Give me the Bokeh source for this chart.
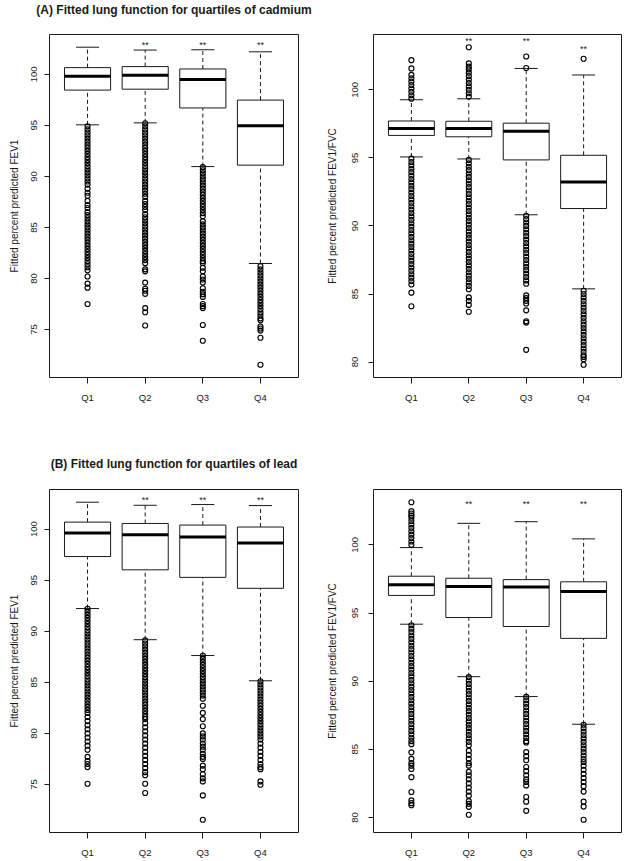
from bokeh.plotting import figure
from bokeh.models import Range1d, FixedTicker, Title
from bokeh.layouts import column, row
from bokeh.embed import file_html
from bokeh.resources import INLINE
from bokeh.core.properties import value

categories = ["Q1", "Q2", "Q3", "Q4"]
cat_pos = [1, 2, 3, 4]
star_pos = [2, 3, 4]

# ---------- (A) cadmium, FEV1 ----------
a1_whisk_lo = [95.05, 95.24, 90.96, 81.47]
a1_q1 = [98.45, 98.54, 96.70, 91.10]
a1_med = [99.80, 99.90, 99.48, 94.95]
a1_q3 = [100.65, 100.75, 100.52, 97.47]
a1_whisk_hi = [102.65, 102.37, 102.40, 102.20]
a1_out_q1 = [94.9, 94.6, 94.3, 94.0, 93.7, 93.4, 93.1, 92.8, 92.5, 92.2, 91.9, 91.6, 91.3, 91.0,
             90.7, 90.4, 90.1, 89.8, 89.5, 89.2, 88.8, 88.4, 88.1, 87.6, 87.2, 86.9, 86.5, 86.2,
             85.9, 85.6, 85.3, 85.0, 84.7, 84.4, 84.1, 83.8, 83.5, 83.2, 82.9, 82.6, 82.3, 82.0,
             81.7, 81.4, 81.1, 80.8, 80.2, 79.5, 79.1, 77.5]
a1_out_q2 = [95.2, 94.9, 94.6, 94.3, 94.0, 93.7, 93.4, 93.1, 92.8, 92.5, 92.2, 91.9, 91.6, 91.3,
             91.0, 90.7, 90.4, 90.1, 89.8, 89.5, 89.2, 88.9, 88.6, 88.3, 88.0, 87.6, 87.3, 87.0,
             86.7, 86.3, 86.0, 85.7, 85.4, 85.1, 84.8, 84.5, 84.2, 83.9, 83.6, 83.3, 83.0, 82.7,
             82.4, 82.1, 81.8, 81.5, 80.9, 80.7, 79.6, 79.0, 78.8, 78.5, 77.1, 76.7, 75.4]
a1_out_q3 = [90.9, 90.6, 90.3, 90.0, 89.7, 89.4, 89.1, 88.8, 88.5, 88.2, 87.9, 87.6, 87.3, 87.0,
             86.7, 86.4, 86.1, 85.6, 85.3, 85.0, 84.7, 84.4, 84.1, 83.8, 83.5, 83.2, 82.9, 82.6,
             82.3, 82.0, 81.7, 81.5, 81.05, 80.7, 80.2, 79.9, 79.6, 79.05, 78.7, 78.45, 78.2,
             77.5, 77.3, 77.1, 75.45, 73.9]
a1_out_q4 = [81.2, 80.9, 80.6, 80.3, 80.0, 79.7, 79.4, 79.1, 78.8, 78.5, 78.2, 77.9, 77.6, 77.3,
             77.0, 76.7, 76.4, 76.1, 75.9, 75.3, 75.1, 74.9, 74.2, 71.55]
a1_stars = [102.9, 102.9, 102.9]

# ---------- (A) cadmium, FEV1/FVC ----------
a2_whisk_lo = [95.07, 94.92, 90.82, 85.38]
a2_q1 = [96.65, 96.55, 94.85, 91.28]
a2_med = [97.16, 97.16, 96.96, 93.23]
a2_q3 = [97.71, 97.69, 97.55, 95.19]
a2_whisk_hi = [99.27, 99.34, 101.57, 101.09]
a2_out_q1 = [102.18, 101.57, 101.1, 100.85, 100.6, 100.35, 100.1, 99.85, 99.6, 99.35,
             94.95, 94.7, 94.45, 94.2, 93.95, 93.7, 93.45, 93.2, 92.95, 92.7, 92.45, 92.2, 91.95,
             91.7, 91.45, 91.2, 90.95, 90.7, 90.45, 90.2, 89.95, 89.7, 89.45, 89.2, 88.95, 88.7,
             88.45, 88.2, 87.95, 87.7, 87.45, 87.2, 86.95, 86.7, 86.45, 86.2, 85.95, 85.7, 85.1, 84.1]
a2_out_q2 = [103.13, 101.94, 101.7, 101.5, 101.25, 101.0, 100.75, 100.5, 100.25, 100.0, 99.75, 99.5,
             94.85, 94.6, 94.35, 94.1, 93.85, 93.6, 93.35, 93.1, 92.85, 92.6, 92.35, 92.1, 91.85,
             91.6, 91.35, 91.1, 90.85, 90.6, 90.35, 90.1, 89.85, 89.6, 89.35, 89.1, 88.85, 88.6,
             88.35, 88.1, 87.85, 87.6, 87.35, 87.1, 86.85, 86.6, 86.35, 86.1, 85.85, 85.6, 85.35,
             84.75, 84.5, 84.2, 83.7]
a2_out_q3 = [102.45, 101.6,
             90.75, 90.5, 90.25, 90.0, 89.75, 89.5, 89.25, 89.0, 88.75, 88.5, 88.25, 88.0, 87.75,
             87.5, 87.25, 87.0, 86.75, 86.5, 86.25, 86.0, 85.75, 84.9, 84.7, 84.5, 84.3, 83.8,
             83.0, 82.9, 80.9]
a2_out_q4 = [102.28,
             85.24, 85.0, 84.75, 84.5, 84.25, 84.0, 83.75, 83.5, 83.25, 83.0, 82.75, 82.5, 82.25,
             82.0, 81.75, 81.5, 81.25, 81.0, 80.75, 80.5, 80.38, 80.2, 79.8]
a2_stars = [103.6, 103.6, 103.03]

# ---------- (B) lead, FEV1 ----------
b1_whisk_lo = [92.22, 89.17, 87.62, 85.15]
b1_q1 = [97.31, 96.01, 95.27, 94.20]
b1_med = [99.61, 99.45, 99.22, 98.64]
b1_q3 = [100.68, 100.55, 100.39, 100.20]
b1_whisk_hi = [102.63, 102.33, 102.40, 102.30]
b1_out_q1 = [92.2, 91.9, 91.6, 91.3, 91.0, 90.7, 90.4, 90.1, 89.8, 89.5, 89.2, 88.9, 88.6, 88.3,
             88.0, 87.7, 87.4, 87.1, 86.8, 86.5, 86.2, 85.9, 85.6, 85.3, 85.0, 84.7, 84.4, 84.1,
             83.8, 83.5, 83.2, 82.9, 82.6, 82.3, 82.0, 81.6, 81.2, 80.8, 80.4, 80.0, 79.6, 79.2,
             78.8, 78.4, 77.7, 77.3, 77.0, 76.7, 75.07]
b1_out_q2 = [89.1, 88.8, 88.5, 88.2, 87.9, 87.6, 87.3, 87.0, 86.7, 86.4, 86.1, 85.8, 85.5, 85.2,
             84.9, 84.6, 84.3, 84.0, 83.7, 83.4, 83.1, 82.8, 82.5, 82.2, 81.9, 81.6, 81.4, 81.0,
             80.6, 80.2, 79.8, 79.4, 79.0, 78.6, 78.2, 77.8, 77.4, 77.0, 76.6, 76.2, 75.9, 75.07,
             74.16]
b1_out_q3 = [87.6, 87.3, 87.0, 86.7, 86.4, 86.1, 85.8, 85.5, 85.2, 84.9, 84.6, 84.3, 84.0, 83.7,
             83.4, 82.7, 82.0, 81.4, 80.7, 80.0, 79.7, 79.4, 79.0, 78.7, 78.4, 78.0, 77.7, 77.5,
             76.85, 76.5, 76.0, 75.6, 75.3, 73.93, 71.54]
b1_out_q4 = [85.1, 84.8, 84.5, 84.2, 83.9, 83.6, 83.3, 83.0, 82.7, 82.4, 82.1, 81.8, 81.5, 81.2,
             80.9, 80.6, 80.3, 80.0, 79.7, 79.4, 79.0, 78.6, 78.2, 77.8, 77.4, 77.0, 76.7, 76.5,
             75.3, 74.97]
b1_stars = [102.89, 102.89, 102.89]

# ---------- (B) lead, FEV1/FVC ----------
b2_whisk_lo = [94.18, 90.33, 88.87, 86.84]
b2_q1 = [96.29, 94.67, 94.01, 93.14]
b2_med = [97.07, 96.95, 96.90, 96.58]
b2_q3 = [97.70, 97.55, 97.45, 97.29]
b2_whisk_hi = [99.80, 101.58, 101.70, 100.44]
b2_out_q1 = [103.13, 102.47, 102.3, 102.15, 101.99, 101.75, 101.5, 101.25, 101.0, 100.75, 100.5,
             100.25, 100.0,
             94.1, 93.85, 93.6, 93.35, 93.1, 92.85, 92.6, 92.35, 92.1, 91.85, 91.6, 91.35, 91.1,
             90.85, 90.6, 90.35, 90.1, 89.85, 89.6, 89.35, 89.1, 88.85, 88.6, 88.35, 88.1, 87.85,
             87.6, 87.35, 87.1, 86.85, 86.6, 86.35, 86.1, 85.85, 85.6, 85.38, 84.78, 84.3, 84.0,
             83.8, 83.56, 82.96, 81.87, 81.26, 81.05, 80.9]
b2_out_q2 = [90.3, 90.05, 89.8, 89.55, 89.3, 89.05, 88.8, 88.55, 88.3, 88.05, 87.8, 87.55, 87.3,
             87.05, 86.8, 86.55, 86.3, 86.05, 85.8, 85.55, 85.3, 84.9, 84.6, 84.3, 84.0, 83.8,
             83.35, 83.1, 82.8, 82.5, 82.2, 81.9, 81.6, 81.2, 81.0, 80.78, 80.2]
b2_out_q3 = [88.85, 88.6, 88.35, 88.1, 87.85, 87.6, 87.35, 87.1, 86.85, 86.6, 86.35, 86.1, 85.85,
             85.6, 85.5, 84.8, 84.5, 84.2, 83.7, 83.4, 83.1, 82.8, 82.6, 82.35, 81.5, 81.16, 80.49]
b2_out_q4 = [86.8, 86.55, 86.3, 86.05, 85.8, 85.55, 85.3, 85.05, 84.8, 84.55, 84.29, 84.07, 83.8,
             83.5, 83.2, 82.9, 82.6, 82.3, 81.9, 81.16, 80.8, 79.83]
b2_stars = [103.0, 103.0, 103.0]

yticks_fev1 = [75, 80, 85, 90, 95, 100]
yticks_ratio = [80, 85, 90, 95, 100]

FONT = "Liberation Sans"
INK = "#1a1a1a"
BOX_W = 0.8
CAP_W = 0.4


def panel(lo, q1, med, q3, hi, outliers, stars, ylabel, yticks, title,
          width, height, mbl, mbr, mbt, mbb, tick_standoff, label_standoff, title_gap):
    all_vals = lo + hi + [v for o in outliers for v in o]
    vmin, vmax = min(all_vals), max(all_vals)
    pad = 0.04 * (vmax - vmin)
    p = figure(width=width, height=height, output_backend="svg", toolbar_location=None,
               title=None,
               x_range=Range1d(0.5 - 0.04 * 4, 4.5 + 0.04 * 4),
               y_range=Range1d(vmin - pad, vmax + pad),
               min_border_left=mbl, min_border_right=mbr,
               min_border_top=mbt, min_border_bottom=mbb,
               background_fill_color="white", border_fill_color="white")
    p.outline_line_color = INK
    p.outline_line_width = 1
    p.xgrid.visible = False
    p.ygrid.visible = False
    if title:
        # spacer between the frame and the title (keeps the title near the top edge)
        p.add_layout(Title(text=" ", text_font_size="1px", standoff=title_gap), "above")
        p.add_layout(Title(text=title, align="center", text_font=FONT,
                           text_font_size="12px", text_font_style="bold",
                           text_color=INK, standoff=0), "above")

    xs_l = [x - BOX_W / 2 for x in cat_pos]
    xs_r = [x + BOX_W / 2 for x in cat_pos]
    cap_l = [x - CAP_W / 2 for x in cat_pos]
    cap_r = [x + CAP_W / 2 for x in cat_pos]

    # whiskers (dashed)
    p.segment(x0=cat_pos, y0=q3, x1=cat_pos, y1=hi, line_color=INK, line_width=1, line_dash="4 3")
    p.segment(x0=cat_pos, y0=lo, x1=cat_pos, y1=q1, line_color=INK, line_width=1, line_dash="4 3")
    # staples
    p.segment(x0=cap_l, y0=hi, x1=cap_r, y1=hi, line_color=INK, line_width=1)
    p.segment(x0=cap_l, y0=lo, x1=cap_r, y1=lo, line_color=INK, line_width=1)
    # boxes
    p.quad(left=xs_l, right=xs_r, bottom=q1, top=q3, fill_color="white",
           line_color=INK, line_width=1)
    # medians
    p.segment(x0=xs_l, y0=med, x1=xs_r, y1=med, line_color="black", line_width=3)
    # outliers
    ox, oy = [], []
    for x, o in zip(cat_pos, outliers):
        ox += [x] * len(o)
        oy += o
    p.scatter(x=ox, y=oy, marker="circle", size=5, fill_color=None,
              line_color="black", line_width=1.15)
    # significance stars
    p.text(x=star_pos, y=stars, text=["**"] * len(stars), text_font=value(FONT),
           text_font_size="9px", text_align="center", text_baseline="middle",
           text_color=INK)

    # y axis
    p.yaxis.ticker = FixedTicker(ticks=yticks)
    p.yaxis.major_label_orientation = "parallel"
    p.yaxis.axis_label = ylabel
    p.yaxis.axis_label_standoff = label_standoff
    # x axis
    p.xaxis.ticker = FixedTicker(ticks=cat_pos)
    p.xaxis.major_label_overrides = {x: c for x, c in zip(cat_pos, categories)}
    p.xaxis.major_label_standoff = 8
    for ax in (p.xaxis[0], p.yaxis[0]):
        ax.axis_line_color = None
        ax.major_tick_in = 0
        ax.major_tick_out = 6 if ax is p.xaxis[0] else 5
        ax.major_tick_line_color = INK
        ax.minor_tick_line_color = None
        ax.major_label_text_font = FONT
        ax.major_label_text_font_size = "9.5px"
        ax.major_label_text_color = INK
        ax.axis_label_text_font = FONT
        ax.axis_label_text_font_size = "10px"
        ax.axis_label_text_font_style = "normal"
        ax.axis_label_text_color = INK
    p.yaxis.major_label_standoff = tick_standoff
    return p


pa1 = panel(a1_whisk_lo, a1_q1, a1_med, a1_q3, a1_whisk_hi,
            [a1_out_q1, a1_out_q2, a1_out_q3, a1_out_q4], a1_stars,
            "Fitted percent predicted FEV1", yticks_fev1,
            "(A) Fitted lung function for quartiles of cadmium",
            320, 420, 49, 22, 32, 43, 7, 9, 15)
pa2 = panel(a2_whisk_lo, a2_q1, a2_med, a2_q3, a2_whisk_hi,
            [a2_out_q1, a2_out_q2, a2_out_q3, a2_out_q4], a2_stars,
            "Fitted percent predicted FEV1/FVC", yticks_ratio, None,
            304, 420, 53, 3, 32, 43, 10, 12, 0)
pb1 = panel(b1_whisk_lo, b1_q1, b1_med, b1_q3, b1_whisk_hi,
            [b1_out_q1, b1_out_q2, b1_out_q3, b1_out_q4], b1_stars,
            "Fitted percent predicted FEV1", yticks_fev1,
            "(B) Fitted lung function for quartiles of lead",
            320, 440, 49, 22, 69, 26, 7, 9, 16)
pb2 = panel(b2_whisk_lo, b2_q1, b2_med, b2_q3, b2_whisk_hi,
            [b2_out_q1, b2_out_q2, b2_out_q3, b2_out_q4], b2_stars,
            "Fitted percent predicted FEV1/FVC", yticks_ratio, None,
            304, 440, 53, 3, 69, 26, 10, 12, 0)

layout = column(row(pa1, pa2), row(pb1, pb2))
open("out.html", "w").write(file_html(layout, INLINE))
